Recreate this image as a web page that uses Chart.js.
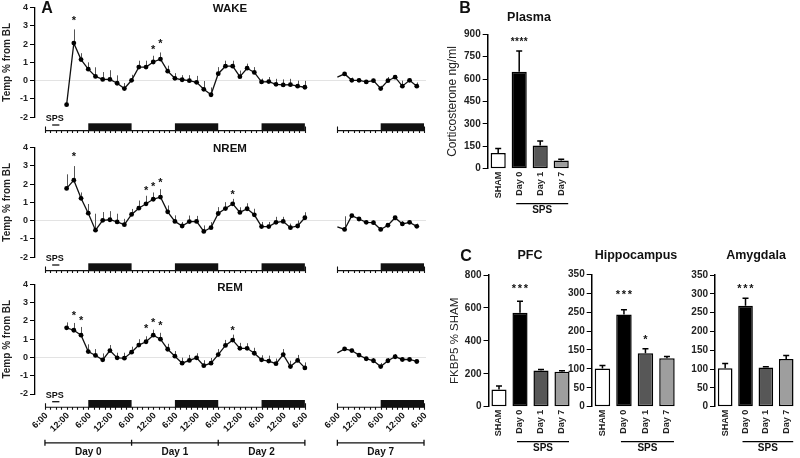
<!DOCTYPE html>
<html>
<head>
<meta charset="utf-8">
<script src="https://cdn.jsdelivr.net/npm/chart.js@4.4.0/dist/chart.umd.min.js"></script>
<style>
  body { margin: 0; width: 800px; height: 458px; background: #fff; position: relative; overflow: hidden;
         font-family: "Liberation Sans", Arial, sans-serif; color: #111; }
  canvas { position: absolute; }
  .t { position: absolute; transform: translate(-50%, -50%); line-height: 1; white-space: nowrap; font-weight: bold; }
  .panel { font-size: 16px; }
  .ttlA { font-size: 11.5px; }
  .ttlB { font-size: 12.5px; }
</style>
</head>
<body>
<canvas id="wake" width="430" height="140" style="left:0;top:0"></canvas>
<canvas id="nrem" width="430" height="137" style="left:0;top:140px"></canvas>
<canvas id="rem" width="430" height="181" style="left:0;top:277px"></canvas>
<canvas id="plasma" width="150" height="230" style="left:430px;top:0"></canvas>
<canvas id="pfc" width="150" height="218" style="left:430px;top:240px"></canvas>
<canvas id="hippo" width="118" height="218" style="left:565px;top:240px"></canvas>
<canvas id="amyg" width="110" height="218" style="left:690px;top:240px"></canvas>

<div class="t panel" style="left:47px;top:8px">A</div>
<div class="t ttlA" style="left:230px;top:8.5px">WAKE</div>
<div class="t ttlA" style="left:230px;top:148.5px">NREM</div>
<div class="t ttlA" style="left:230px;top:287.5px">REM</div>
<div class="t panel" style="left:465px;top:8px">B</div>
<div class="t ttlB" style="left:529px;top:17px">Plasma</div>
<div class="t panel" style="left:466px;top:256px">C</div>
<div class="t ttlB" style="left:530px;top:255px">PFC</div>
<div class="t ttlB" style="left:636px;top:255px">Hippocampus</div>
<div class="t ttlB" style="left:756px;top:255px">Amygdala</div>

<script>
Chart.defaults.font.family = '"Liberation Sans", Arial, sans-serif';
Chart.defaults.color = '#222';

// --- panel A: hours counted from 6:00 on Day 0 (Day 7 placed after a gap) ---
const hoursMain = [6, 8, 10, 12, 14, 16, 18, 20, 22, 24, 26, 28, 30, 32, 34, 36, 38,
                   40, 42, 44, 46, 48, 50, 52, 54, 56, 58, 60, 62, 64, 66, 68, 70, 72];
const hoursDay7 = [81, 83, 85, 87, 89, 91, 93, 95, 97, 99, 101, 103];
const timeTicks = [0, 6, 12, 18, 24, 30, 36, 42, 48, 54, 60, 66, 72, 81, 87, 93, 99, 105];
const timeLabels = ['6:00', '12:00', '6:00', '12:00', '6:00', '12:00', '6:00', '12:00', '6:00',
                    '12:00', '6:00', '12:00', '6:00', '6:00', '12:00', '6:00', '12:00', '6:00'];
const stripStart = [0, 81];
const stripEnd = [72, 105];
const darkStart = [12, 36, 60, 93];
const darkEnd = [24, 48, 72, 105];
const dayNames = ['Day 0', 'Day 1', 'Day 2', 'Day 7'];
const dayStart = [0, 24, 48, 81];
const dayEnd = [24, 48, 72, 105];
const spsHours = [2, 4];

const wakeMain = [-1.31, 2.05, 1.15, 0.63, 0.23, 0.07, 0.07, -0.14, -0.43, 0.02, 0.74, 0.74, 1.02, 1.18, 0.52, 0.13, 0.05,
                  0.0, -0.09, -0.47, -0.77, 0.38, 0.79, 0.79, 0.22, 0.68, 0.45, -0.07, -0.05, -0.20, -0.23, -0.22, -0.30, -0.36];
const wakeMainErr = [0, 0.75, 0.35, 0.37, 0.5, 0.4, 0.5, 0.43, 0.3, 0.3, 0.35, 0.35, 0.34, 0.36, 0.3, 0.28, 0.25,
                     0.3, 0.35, 0.45, 0.4, 0.36, 0.3, 0.3, 0.33, 0.25, 0.29, 0.18, 0.25, 0.3, 0.3, 0.32, 0.3, 0.35];
const wakeDay7 = [0.19, 0.37, 0.02, 0.02, -0.07, 0.0, -0.43, 0.0, 0.19, -0.3, 0.02, -0.3];
const wakeDay7Err = [0, 0.1, 0.15, 0.12, 0.1, 0.1, 0.15, 0.2, 0.1, 0.3, 0.1, 0.2];
const wakeStarIdx = [1, 12, 13];
const wakeStarY = [3.43, 1.87, 2.17];

const nremMain = [1.76, 2.21, 1.22, 0.41, -0.52, 0.02, 0.05, -0.07, -0.22, 0.34, 0.68, 0.92, 1.17, 1.29, 0.48, -0.04, -0.29,
                  -0.05, -0.04, -0.59, -0.38, 0.39, 0.66, 0.92, 0.45, 0.65, 0.32, -0.32, -0.32, -0.09, -0.04, -0.38, -0.29, 0.16];
const nremMainErr = [0.77, 0.77, 0.32, 0.5, 0.9, 0.45, 0.47, 0.45, 0.32, 0.3, 0.42, 0.44, 0.37, 0.43, 0.35, 0.33, 0.22,
                     0.33, 0.3, 0.33, 0.3, 0.35, 0.35, 0.27, 0.28, 0.3, 0.33, 0.25, 0.25, 0.3, 0.25, 0.22, 0.3, 0.3];
const nremDay7 = [-0.34, -0.48, 0.27, 0.09, -0.09, -0.11, -0.48, -0.25, 0.16, -0.18, -0.09, -0.31];
const nremDay7Err = [0, 0.72, 0.1, 0.1, 0.1, 0.12, 0.1, 0.1, 0.1, 0.15, 0.1, 0.15];
const nremStarIdx = [1, 11, 12, 13, 23];
const nremStarY = [3.64, 1.81, 2.03, 2.26, 1.6];

const remMain = [1.62, 1.49, 1.22, 0.32, 0.11, -0.13, 0.38, -0.02, -0.04, 0.29, 0.68, 0.86, 1.22, 1.0, 0.45, 0.07, -0.31,
                 -0.16, -0.02, -0.45, -0.31, 0.16, 0.66, 0.95, 0.5, 0.5, 0.23, -0.13, -0.2, -0.34, 0.16, -0.5, -0.16, -0.57];
const remMainErr = [0.3, 0.4, 0.45, 0.4, 0.35, 0.35, 0.3, 0.28, 0.3, 0.3, 0.32, 0.3, 0.3, 0.35, 0.3, 0.28, 0.3,
                    0.3, 0.25, 0.3, 0.28, 0.3, 0.3, 0.3, 0.3, 0.28, 0.3, 0.25, 0.3, 0.28, 0.3, 0.32, 0.3, 0.3];
const remDay7 = [0.25, 0.47, 0.38, 0.13, -0.07, -0.18, -0.5, -0.18, 0.04, -0.11, -0.11, -0.22];
const remDay7Err = [0, 0.1, 0.1, 0.1, 0.1, 0.15, 0.2, 0.15, 0.15, 0.1, 0.1, 0.1];
const remStarIdx = [1, 2, 11, 12, 13, 23];
const remStarY = [2.48, 2.17, 1.72, 2.08, 1.9, 1.63];

// --- panels B and C ---
const groups = ['SHAM', 'Day 0', 'Day 1', 'Day 7'];
const groupColors = ['#ffffff', '#000000', '#575757', '#9e9e9e'];
const plasmaVals = [105, 650, 155, 55];
const plasmaErr = [30, 138, 30, 8];
const pfcVals = [105, 570, 220, 213];
const pfcErr = [20, 70, 6, 5];
const hippoVals = [101, 244, 141, 128];
const hippoErr = [8, 12, 12, 5];
const amygVals = [102, 268, 104, 127];
const amygErr = [13, 20, 2, 9];

// pixel layout for panel A
const A_LEFT = 35, A_X0 = 45, A_X105 = 426, A_RIGHT = 428;

function drawStars(ctx, n, cx, cy, fs, gap) {
  ctx.font = 'bold ' + fs + 'px "Liberation Sans", Arial, sans-serif';
  ctx.textAlign = 'center';
  ctx.textBaseline = 'alphabetic';
  for (let k = 0; k < n; k++) {
    ctx.fillText('*', cx - (n - 1) * gap / 2 + k * gap, cy + 0.58 * fs);
  }
}

const sleepPlugin = {
  id: 'sleep',
  beforeDatasetsDraw(chart) {
    const {ctx, scales: {x, y}} = chart;
    ctx.save();
    ctx.strokeStyle = '#555';
    ctx.lineWidth = 1;
    chart.data.datasets.forEach(ds => {
      ds.data.forEach((p, i) => {
        const e = ds.err[i];
        if (!e) return;
        const px = Math.round(x.getPixelForValue(p.x)) + 0.5;
        ctx.beginPath();
        ctx.moveTo(px, y.getPixelForValue(p.y));
        ctx.lineTo(px, y.getPixelForValue(p.y + e));
        ctx.stroke();
      });
    });
    ctx.restore();
  },
  afterDraw(chart) {
    const o = chart.options.plugins.sleep;
    const {ctx, chartArea, scales: {x, y}} = chart;
    const bottom = chartArea.bottom;
    const base = bottom + 13.3;
    ctx.save();
    ctx.fillStyle = '#111';
    ctx.strokeStyle = '#111';

    // stars
    o.starIdx.forEach((idx, k) => {
      drawStars(ctx, 1, x.getPixelForValue(hoursMain[idx]), y.getPixelForValue(o.starY[k]), 11, 0);
    });

    // SPS marker
    const s0 = x.getPixelForValue(spsHours[0]), s1 = x.getPixelForValue(spsHours[1]);
    ctx.font = 'bold 9px "Liberation Sans", Arial, sans-serif';
    ctx.textAlign = 'center';
    ctx.textBaseline = 'middle';
    ctx.fillText('SPS', (s0 + s1) / 2 - 1, bottom + 1.5);
    ctx.lineWidth = 1.3;
    ctx.beginPath(); ctx.moveTo(s0, bottom + 7.7); ctx.lineTo(s1, bottom + 7.7); ctx.stroke();

    // dark phases
    darkStart.forEach((a, i) => {
      const xa = x.getPixelForValue(a), xb = x.getPixelForValue(darkEnd[i]);
      ctx.fillRect(xa, base - 7.3, xb - xa, 7.3);
    });

    // time strip with ticks every 1.5 h
    ctx.lineWidth = 1.1;
    stripStart.forEach((a, i) => {
      const b = stripEnd[i];
      ctx.beginPath();
      ctx.moveTo(x.getPixelForValue(a), base);
      ctx.lineTo(x.getPixelForValue(b), base);
      for (let t = a; t <= b + 0.01; t += 1.5) {
        const px = Math.round(x.getPixelForValue(t)) + 0.5;
        ctx.moveTo(px, base);
        ctx.lineTo(px, base + 2.5);
      }
      [a, b].forEach(t => {
        const px = Math.round(x.getPixelForValue(t)) + 0.5;
        ctx.moveTo(px, base - 4);
        ctx.lineTo(px, base + 2.5);
      });
      ctx.stroke();
    });

    if (o.withLabels) {
      ctx.font = 'bold 9px "Liberation Sans", Arial, sans-serif';
      ctx.textAlign = 'right';
      ctx.textBaseline = 'middle';
      timeTicks.forEach((t, i) => {
        ctx.save();
        ctx.translate(x.getPixelForValue(t) + 1.5, base + 7);
        ctx.rotate(-Math.PI / 4);
        ctx.fillText(timeLabels[i], 0, 0);
        ctx.restore();
      });
      const yb = base + 35.5;
      ctx.lineWidth = 1.3;
      ctx.beginPath();
      dayStart.forEach((a, i) => {
        const xa = x.getPixelForValue(a), xb = x.getPixelForValue(dayEnd[i]);
        ctx.moveTo(xa, yb); ctx.lineTo(xb, yb);
        ctx.moveTo(xa, yb - 3); ctx.lineTo(xa, yb + 3);
        ctx.moveTo(xb, yb - 3); ctx.lineTo(xb, yb + 3);
      });
      ctx.stroke();
      ctx.font = 'bold 10px "Liberation Sans", Arial, sans-serif';
      ctx.textAlign = 'center';
      dayNames.forEach((d, i) => {
        ctx.fillText(d, (x.getPixelForValue(dayStart[i]) + x.getPixelForValue(dayEnd[i])) / 2, yb + 9.5);
      });
    }
    ctx.restore();
  }
};

function sleepChart(id, main, mainErr, d7, d7Err, starIdx, starY, padTop, padBottom, withLabels) {
  const canvas = document.getElementById(id);
  const pxPerH = (A_X105 - A_X0) / 105;
  return new Chart(canvas, {
    type: 'line',
    data: {
      datasets: [
        { data: hoursMain.map((h, i) => ({x: h, y: main[i]})), err: mainErr,
          borderColor: '#111', borderWidth: 1.3, tension: 0, fill: false,
          pointRadius: 2.4, pointBackgroundColor: '#000', pointBorderColor: '#000', pointBorderWidth: 0 },
        { data: hoursDay7.map((h, i) => ({x: h, y: d7[i]})), err: d7Err,
          borderColor: '#111', borderWidth: 1.3, tension: 0, fill: false,
          pointRadius: c => c.dataIndex === 0 ? 0 : 2.4,
          pointBackgroundColor: '#000', pointBorderColor: '#000', pointBorderWidth: 0 }
      ]
    },
    options: {
      responsive: false,
      animation: false,
      events: [],
      layout: { padding: { left: 0, right: canvas.width - A_RIGHT, top: padTop, bottom: padBottom } },
      plugins: { legend: { display: false }, tooltip: { enabled: false },
                 sleep: { starIdx, starY, withLabels } },
      scales: {
        x: { type: 'linear', display: false,
             min: -(A_X0 - A_LEFT) / pxPerH, max: (A_RIGHT - A_X0) / pxPerH },
        y: {
          min: -2, max: 4,
          afterFit: s => { s.width = A_LEFT; },
          ticks: { stepSize: 1, padding: 2, color: '#222', font: { size: 9, weight: 'bold' } },
          grid: { drawOnChartArea: true, lineWidth: 1, tickLength: 5, tickColor: '#000',
                  color: c => (c.tick && c.tick.value === 0) ? '#e3e3e3' : 'rgba(0,0,0,0)' },
          border: { display: true, color: '#000', width: 1.3 },
          title: { display: true, text: 'Temp % from BL', color: '#222',
                   font: { size: 10, weight: 'bold' }, padding: { top: 1, bottom: 0 } }
        }
      }
    },
    plugins: [sleepPlugin]
  });
}

const barPlugin = {
  id: 'barx',
  afterDatasetsDraw(chart) {
    const o = chart.options.plugins.barx;
    const {ctx, chartArea, scales: {y}} = chart;
    const ds = chart.data.datasets[0];
    const meta = chart.getDatasetMeta(0);
    ctx.save();
    ctx.strokeStyle = '#000';
    ctx.fillStyle = '#111';
    ctx.lineWidth = 1.5;
    ctx.beginPath();
    meta.data.forEach((bar, i) => {
      const top = y.getPixelForValue(ds.data[i]);
      const et = y.getPixelForValue(ds.data[i] + ds.err[i]);
      ctx.moveTo(bar.x, top); ctx.lineTo(bar.x, et);
      ctx.moveTo(bar.x - 3, et); ctx.lineTo(bar.x + 3, et);
    });
    ctx.stroke();

    o.starIdx.forEach((idx, k) => {
      drawStars(ctx, o.starN[k], meta.data[idx].x, y.getPixelForValue(o.starVal[k]), o.starFont, o.starGap);
    });

    // SPS bracket under the three SPS groups
    const yl = chartArea.bottom + 35;
    const xa = meta.data[1].x - 3, xb = meta.data[3].x + 7;
    ctx.lineWidth = 1.3;
    ctx.beginPath(); ctx.moveTo(xa, yl); ctx.lineTo(xb, yl); ctx.stroke();
    ctx.font = 'bold 10px "Liberation Sans", Arial, sans-serif';
    ctx.textAlign = 'center';
    ctx.textBaseline = 'middle';
    ctx.fillText('SPS', (xa + xb) / 2, yl + 7);
    ctx.restore();
  }
};

function barChart(id, vals, errs, yMax, yStep, g, stars) {
  const canvas = document.getElementById(id);
  return new Chart(canvas, {
    type: 'bar',
    data: {
      labels: groups,
      datasets: [{ data: vals, err: errs, backgroundColor: groupColors, borderColor: '#000',
                   borderWidth: 1.5, borderSkipped: false, barPercentage: 0.72, categoryPercentage: 1 }]
    },
    options: {
      responsive: false,
      animation: false,
      events: [],
      layout: { padding: { left: 0, right: g.padRight, top: g.padTop, bottom: 0 } },
      plugins: { legend: { display: false }, tooltip: { enabled: false }, barx: stars },
      scales: {
        x: {
          afterFit: s => { s.height = g.xHeight; },
          grid: { display: false, drawTicks: false },
          border: { display: false },
          ticks: { autoSkip: false, minRotation: 90, maxRotation: 90, padding: 3, color: '#222',
                   font: { size: 9, weight: 'bold' } }
        },
        y: {
          min: 0, max: yMax,
          afterFit: s => { s.width = g.yWidth; },
          ticks: { stepSize: yStep, padding: 2, color: '#222', font: { size: 10, weight: 'bold' } },
          grid: { display: true, drawOnChartArea: false, tickLength: 5, tickColor: '#000' },
          border: { display: true, color: '#000', width: 1.5 },
          title: g.title ? { display: true, text: g.title, color: '#222',
                             font: { size: g.titleSize }, padding: { top: g.titlePad, bottom: 0 } }
                         : { display: false }
        }
      }
    },
    plugins: [barPlugin]
  });
}

sleepChart('wake', wakeMain, wakeMainErr, wakeDay7, wakeDay7Err, wakeStarIdx, wakeStarY, 6, 22.7, false);
sleepChart('nrem', nremMain, nremMainErr, nremDay7, nremDay7Err, nremStarIdx, nremStarY, 6, 19.7, false);
sleepChart('rem', remMain, remMainErr, remDay7, remDay7Err, remStarIdx, remStarY, 6.3, 64, true);

barChart('plasma', plasmaVals, plasmaErr, 900, 150,
  { padTop: 34.3, yWidth: 57.7, padRight: 8.3, xHeight: 61.3, title: 'Corticosterone ng/ml', titleSize: 12, titlePad: 15.8 },
  { starIdx: [1], starN: [4], starVal: [864], starFont: 10, starGap: 4.4 });
barChart('pfc', pfcVals, pfcErr, 800, 200,
  { padTop: 35, yWidth: 58.5, padRight: 7.5, xHeight: 51.3, title: 'FKBP5 % SHAM', titleSize: 11.5, titlePad: 18 },
  { starIdx: [1], starN: [3], starVal: [735], starFont: 11, starGap: 6 });
barChart('hippo', hippoVals, hippoErr, 350, 50,
  { padTop: 34.3, yWidth: 26.7, padRight: 5.3, xHeight: 51.3 },
  { starIdx: [1, 2], starN: [3, 1], starVal: [304, 185], starFont: 11, starGap: 6 });
barChart('amyg', amygVals, amygErr, 350, 50,
  { padTop: 35, yWidth: 25, padRight: 0, xHeight: 51.3 },
  { starIdx: [1], starN: [3], starVal: [321], starFont: 11, starGap: 6 });
</script>
</body>
</html>
